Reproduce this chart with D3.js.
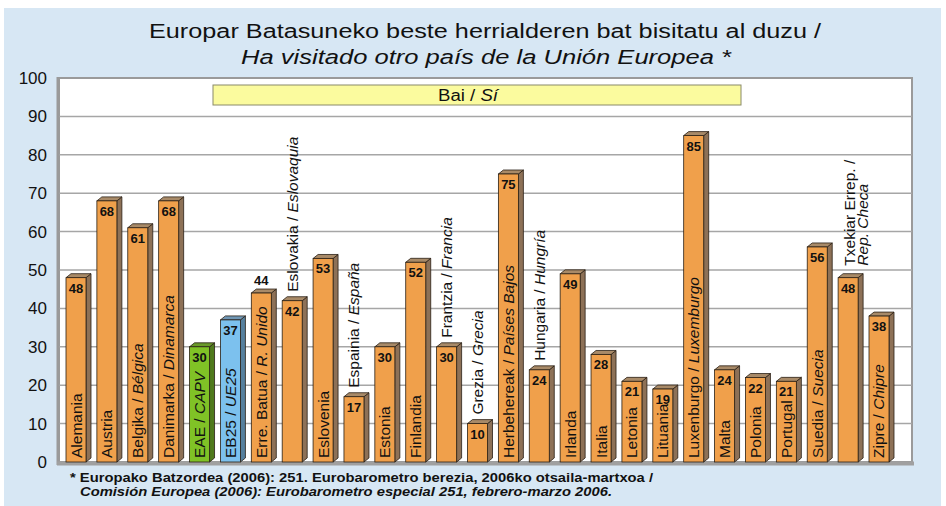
<!DOCTYPE html>
<html>
<head>
<meta charset="utf-8">
<script src="https://cdn.jsdelivr.net/npm/d3@7"></script>
<style>
  body { margin: 0; background: #fff; }
  svg text { font-family: "Liberation Sans", Arial, sans-serif; }
</style>
</head>
<body>
<svg id="svg" width="946" height="506"></svg>
<script>
/* DATA */
var euskara = ["Alemania", "Austria", "Belgika", "Danimarka", "EAE", "EB25", "Erre. Batua",
  "Eslovakia", "Eslovenia", "Espainia", "Estonia", "Finlandia", "Frantzia", "Grezia",
  "Herbehereak", "Hungaria", "Irlanda", "Italia", "Letonia", "Lituania", "Luxenburgo",
  "Malta", "Polonia", "Portugal", "Suedia", "Txekiar Errep.", "Zipre"];
var castellano = ["", "", "Bélgica", "Dinamarca", "CAPV", "UE25", "R. Unido",
  "Eslovaquia", "", "España", "", "", "Francia", "Grecia",
  "Países Bajos", "Hungría", "", "", "", "", "Luxemburgo",
  "", "", "", "Suecia", "Rep. Checa", "Chipre"];
var values = [48, 68, 61, 68, 30, 37, 44, 42, 53, 17, 30, 52, 30, 10, 75, 24, 49, 28, 21, 19, 85, 24, 22, 21, 56, 48, 38];
// label written above the bar instead of inside
var labelAbove = ["Eslovakia", "Espainia", "Frantzia", "Grezia", "Hungaria", "Txekiar Errep."];
var valueAbove = ["Erre. Batua"];
var yTicks = [0, 10, 20, 30, 40, 50, 60, 70, 80, 90, 100];

var svg = d3.select("#svg");

// background panel
svg.append("rect").attr("x", 4).attr("y", 8).attr("width", 937).attr("height", 498).attr("fill", "#d7e7f4");

// title (text in the source is a bit wider than Liberation Sans)
svg.append("text").attr("x", 485).attr("y", 38).attr("text-anchor", "middle")
  .style("font-size", "20px").attr("fill", "#111")
  .attr("textLength", 672).attr("lengthAdjust", "spacingAndGlyphs")
  .text("Europar Batasuneko beste herrialderen bat bisitatu al duzu /");
svg.append("text").attr("x", 486).attr("y", 64).attr("text-anchor", "middle")
  .style("font-size", "20px").style("font-style", "italic").attr("fill", "#111")
  .attr("textLength", 490).attr("lengthAdjust", "spacingAndGlyphs")
  .text("Ha visitado otro país de la Unión Europea *");

var y = d3.scaleLinear().domain([0, 100]).range([462, 78]);
var x = d3.scaleBand().domain(euskara).range([66, 889]).paddingInner(0.3524).paddingOuter(0);

// plot area
svg.append("rect").attr("x", 59).attr("y", 78).attr("width", 853).attr("height", 384)
  .attr("fill", "#fff").attr("stroke", "#9a9a9a").attr("stroke-width", 2);

// grid
svg.append("g").selectAll("line").data(yTicks.slice(1, -1)).join("line")
  .attr("x1", 59).attr("x2", 912).attr("y1", function(d) { return y(d); }).attr("y2", function(d) { return y(d); })
  .attr("stroke", "#a6a6a6").attr("stroke-width", 1.5);

// left wall / floor
svg.append("line").attr("x1", 58).attr("x2", 58).attr("y1", 77).attr("y2", 465).attr("stroke", "#9a9a9a").attr("stroke-width", 3);
svg.append("line").attr("x1", 57).attr("x2", 914).attr("y1", 463.5).attr("y2", 463.5).attr("stroke", "#a0a0a0").attr("stroke-width", 4);

// y axis
var yAxis = d3.axisLeft(y).tickValues(yTicks).tickSize(0).tickPadding(10);
var gy = svg.append("g").attr("transform", "translate(57,0)").call(yAxis);
gy.select(".domain").remove();
gy.selectAll("text").style("font-size", "17px").attr("fill", "#111")
  .style("font-family", "'Liberation Sans', Arial, sans-serif");

// legend
svg.append("rect").attr("x", 213).attr("y", 85).attr("width", 528).attr("height", 20)
  .attr("fill", "#fbfb9e").attr("stroke", "#8a8a6a").attr("stroke-width", 1);
var lg = svg.append("text").attr("x", 468).attr("y", 101).attr("text-anchor", "middle")
  .style("font-size", "16px").attr("fill", "#111")
  .attr("textLength", 60).attr("lengthAdjust", "spacingAndGlyphs");
lg.append("tspan").text("Bai / ");
lg.append("tspan").style("font-style", "italic").text("Sí");

// bars
var depth = 5, rise = 4;
function frontColor(d) { return d === "EAE" ? "#80c226" : d === "EB25" ? "#7cc1ee" : "#f0a04b"; }
function sideColor(d) { return d === "EAE" ? "#4f7a1c" : d === "EB25" ? "#56809e" : "#8d7157"; }
function topColor(d) { return d === "EAE" ? "#6a9a2a" : d === "EB25" ? "#7096b4" : "#a88a68"; }

var bars = svg.append("g").selectAll("g").data(euskara).join("g");
bars.append("path")
  .attr("d", function(d, i) {
    var x0 = x(d) + x.bandwidth(), y0 = y(values[i]), y1 = y(0);
    return "M" + x0 + "," + y0 + "L" + (x0 + depth) + "," + (y0 - rise) + "L" + (x0 + depth) + "," + (y1 - rise) + "L" + x0 + "," + y1 + "Z";
  })
  .attr("fill", sideColor).attr("stroke", "#2a2015").attr("stroke-width", 0.8);
bars.append("path")
  .attr("d", function(d, i) {
    var x0 = x(d), x1 = x(d) + x.bandwidth(), y0 = y(values[i]);
    return "M" + x0 + "," + y0 + "L" + (x0 + depth) + "," + (y0 - rise) + "L" + (x1 + depth) + "," + (y0 - rise) + "L" + x1 + "," + y0 + "Z";
  })
  .attr("fill", topColor).attr("stroke", "#2a2015").attr("stroke-width", 0.8);
bars.append("rect")
  .attr("x", function(d) { return x(d); })
  .attr("y", function(d, i) { return y(values[i]); })
  .attr("width", x.bandwidth())
  .attr("height", function(d, i) { return y(0) - y(values[i]); })
  .attr("fill", frontColor).attr("stroke", "#2a2015").attr("stroke-width", 0.8);

// value labels
bars.append("text")
  .attr("x", function(d) { return x(d) + x.bandwidth() / 2; })
  .attr("y", function(d, i) { return valueAbove.indexOf(d) >= 0 ? y(values[i]) - 8 : y(values[i]) + 15; })
  .attr("text-anchor", "middle").style("font-size", "13px").style("font-weight", "bold").attr("fill", "#111")
  .text(function(d, i) { return values[i]; });

// category labels (rotated)
bars.each(function(d, i) {
  var g = d3.select(this);
  var cx = x(d) + x.bandwidth() / 2;
  var above = labelAbove.indexOf(d) >= 0;
  var startY = above ? y(values[i]) - 9 : y(0) - 4;
  if (d === "Txekiar Errep.") {
    g.append("text").attr("transform", "translate(" + (cx + 7) + "," + (startY - 3) + ") rotate(-90)")
      .style("font-size", "15.5px").attr("fill", "#111").text("Txekiar Errep. /");
    g.append("text").attr("transform", "translate(" + (cx + 20) + "," + (startY - 3) + ") rotate(-90)")
      .style("font-size", "15.5px").style("font-style", "italic").attr("fill", "#111").text(castellano[i]);
    return;
  }
  var t = g.append("text").attr("transform", "translate(" + (cx + 5.5) + "," + startY + ") rotate(-90)")
    .style("font-size", "15.5px").attr("fill", "#111");
  t.append("tspan").text(castellano[i] ? d + " / " : d);
  if (castellano[i]) t.append("tspan").style("font-style", "italic").text(castellano[i]);
});

// footnote
svg.append("text").attr("x", 70).attr("y", 482).style("font-size", "12px").style("font-weight", "bold").attr("fill", "#111")
  .attr("textLength", 583).attr("lengthAdjust", "spacingAndGlyphs")
  .text("* Europako Batzordea (2006): 251. Eurobarometro berezia, 2006ko otsaila-martxoa /");
svg.append("text").attr("x", 80).attr("y", 496).style("font-size", "12px").style("font-weight", "bold").style("font-style", "italic").attr("fill", "#111")
  .attr("textLength", 532).attr("lengthAdjust", "spacingAndGlyphs")
  .text("Comisión Europea (2006): Eurobarometro especial 251, febrero-marzo 2006.");
</script>
</body>
</html>
